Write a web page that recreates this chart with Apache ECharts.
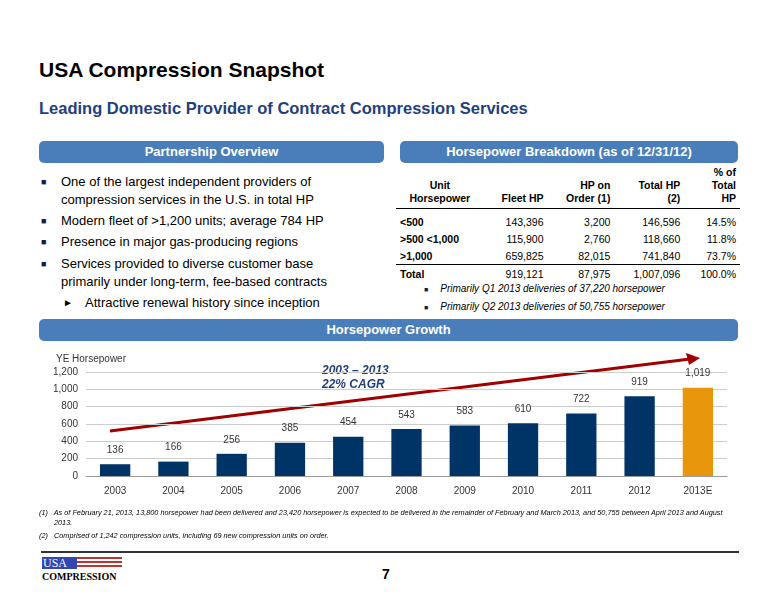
<!DOCTYPE html><html><head><meta charset="utf-8">
<script src="https://cdn.jsdelivr.net/npm/echarts@6/dist/echarts.min.js"></script>
<style>
body{margin:0;width:776px;height:600px;position:relative;font-family:Arial,"Liberation Sans",sans-serif;background:#fff;overflow:hidden}
.a{position:absolute}
.hdr{position:absolute;background:#4a7ebb;color:#fff;font-weight:bold;font-size:13px;text-align:center;line-height:22px;height:22px;border-radius:5px}
ul{margin:0;padding:0;list-style:none}
.b li{position:relative;padding-left:22px;font-size:13px;line-height:18px;margin-bottom:3px}
.b li.s:before{content:"\25A0";position:absolute;left:2px;font-size:9px;color:#1a1a4a}
table{border-collapse:collapse;font-size:10.5px}
td{padding:0 4px;height:17px;text-align:right}
</style></head><body>
<div class="a" style="left:39px;top:58px;font-size:21px;font-weight:bold">USA Compression Snapshot</div>
<div class="a" style="left:39px;top:99px;font-size:16.5px;font-weight:bold;color:#1f3f7f">Leading Domestic Provider of Contract Compression Services</div>
<div class="hdr" style="left:39px;top:141px;width:345px">Partnership Overview</div>
<div class="hdr" style="left:400px;top:141px;width:338px">Horsepower Breakdown (as of 12/31/12)</div>
<ul class="b a" style="left:39px;top:173px;width:345px">
<li class="s">One of the largest independent providers of compression services in the U.S. in total HP</li>
<li class="s">Modern fleet of &gt;1,200 units; average 784 HP</li>
<li class="s" style="margin-bottom:4px">Presence in major gas-producing regions</li>
<li class="s" style="padding-right:20px">Services provided to diverse customer base primarily under long-term, fee-based contracts</li>
<li style="padding-left:46px"><span style="position:absolute;left:24px;font-size:10px">&#9658;</span>Attractive renewal history since inception</li>
</ul>
<table class="a" style="left:396px;top:166px;width:344px" id="t"></table>
<div class="a" style="left:424px;top:280px;font-size:10px;font-style:italic;line-height:17px">
<div><span style="font-style:normal;font-size:7px;color:#1a1a4a;margin-right:12px">&#9632;</span>Primarily Q1 2013 deliveries of 37,220 horsepower</div>
<div><span style="font-style:normal;font-size:7px;color:#1a1a4a;margin-right:12px">&#9632;</span>Primarily Q2 2013 deliveries of 50,755 horsepower</div></div>
<div class="hdr" style="left:39px;top:319px;width:699px">Horsepower Growth</div>
<div id="c" class="a" style="left:0;top:340px;width:776px;height:170px"></div>
<div class="a" style="left:39px;top:508px;width:700px;font-size:7.3px;font-style:italic;line-height:10px">
<div style="padding-left:15px;text-indent:-15px">(1)&nbsp;&nbsp; As of February 21, 2013, 13,800 horsepower had been delivered and 23,420 horsepower is expected to be delivered in the remainder of February and March 2013, and 50,755 between April 2013 and August 2013.</div>
<div style="margin-top:3px">(2)&nbsp;&nbsp; Comprised of 1,242 compression units, including 69 new compression units on order.</div></div>
<div class="a" style="left:41px;top:551px;width:698px;border-top:2px solid #333"></div>
<div class="a" style="left:42px;top:557px;width:80px;height:12px;background:repeating-linear-gradient(#b33 0 2px,#fff 2px 4px)"></div>
<div class="a" style="left:42px;top:557px;width:34px;height:12px;background:#3346b0;color:#fff;font:12px 'Liberation Serif',serif;line-height:12px;padding-left:1px">USA</div>
<div class="a" style="left:42px;top:571px;font:bold 10px 'Liberation Serif',serif">COMPRESSION</div>
<div class="a" style="left:382px;top:566px;font-size:14px;font-weight:bold">7</div>
<script>
const tableHead=[["Unit<br>Horsepower","Fleet HP","HP on<br>Order (1)","Total HP<br>(2)","% of<br>Total<br>HP"]];
const tableRows=[["<500","143,396","3,200","146,596","14.5%"],[">500 <1,000","115,900","2,760","118,660","11.8%"],[">1,000","659,825","82,015","741,840","73.7%"],["Total","919,121","87,975","1,007,096","100.0%"]];
let h='<tr style="font-weight:bold">'+tableHead[0].map((x,i)=>`<td style="text-align:${i==0?'center':'right'};vertical-align:bottom;border-bottom:1px solid #000;padding-bottom:3px;line-height:13px">${x}</td>`).join('')+'</tr>';
tableRows.forEach((r,k)=>{h+='<tr>'+r.map((x,i)=>`<td style="${i==0?'text-align:left;font-weight:bold;':''}${k==2?'border-bottom:1px solid #000;':''}${k==0?'padding-top:4px;':''}">${x.replace('<','&lt;').replace('>','&gt;')}</td>`).join('')+'</tr>'});
document.getElementById('t').innerHTML=h;
const years=["2003","2004","2005","2006","2007","2008","2009","2010","2011","2012","2013E"];
const hp=[136,166,256,385,454,543,583,610,722,919,1019];
const yTicks=[0,200,400,600,800,1000,1200];
const ch=echarts.init(document.getElementById('c'));
ch.setOption({animation:false,
grid:{left:86,right:49,top:32,bottom:34},
xAxis:{type:'category',data:years,axisTick:{show:false},axisLine:{lineStyle:{color:'#999'}},axisLabel:{color:'#333',fontSize:10,margin:10}},
yAxis:{type:'value',min:0,max:1200,interval:200,name:'YE Horsepower',nameLocation:'end',nameGap:8,nameTextStyle:{align:'right',padding:[0,-40,0,0],fontSize:10,color:'#333'},
axisLabel:{fontSize:10,color:'#333',formatter:v=>v.toLocaleString('en-US')},splitLine:{lineStyle:{color:'#ccc'}}},
series:[{type:'bar',barWidth:'52%',data:hp.map((v,i)=>({value:v,itemStyle:{color:i==hp.length-1?'#e8960c':'#003366'}})),
label:{show:true,position:'top',fontSize:10,color:'#333',formatter:p=>p.value.toLocaleString('en-US'),offset:[0,-4]}}],
graphic:[{type:'line',shape:{x1:110,y1:91,x2:690,y2:19},style:{stroke:'#a00000',lineWidth:3}},
{type:'polygon',shape:{points:[[700,18],[686,13],[689,25]]},style:{fill:'#a00000'}},
{type:'text',left:322,top:24,style:{text:'2003 – 2013\n22% CAGR',font:'italic bold 12px Arial',fill:'#1f3f7f',lineHeight:14}}]
});
</script></body></html>
